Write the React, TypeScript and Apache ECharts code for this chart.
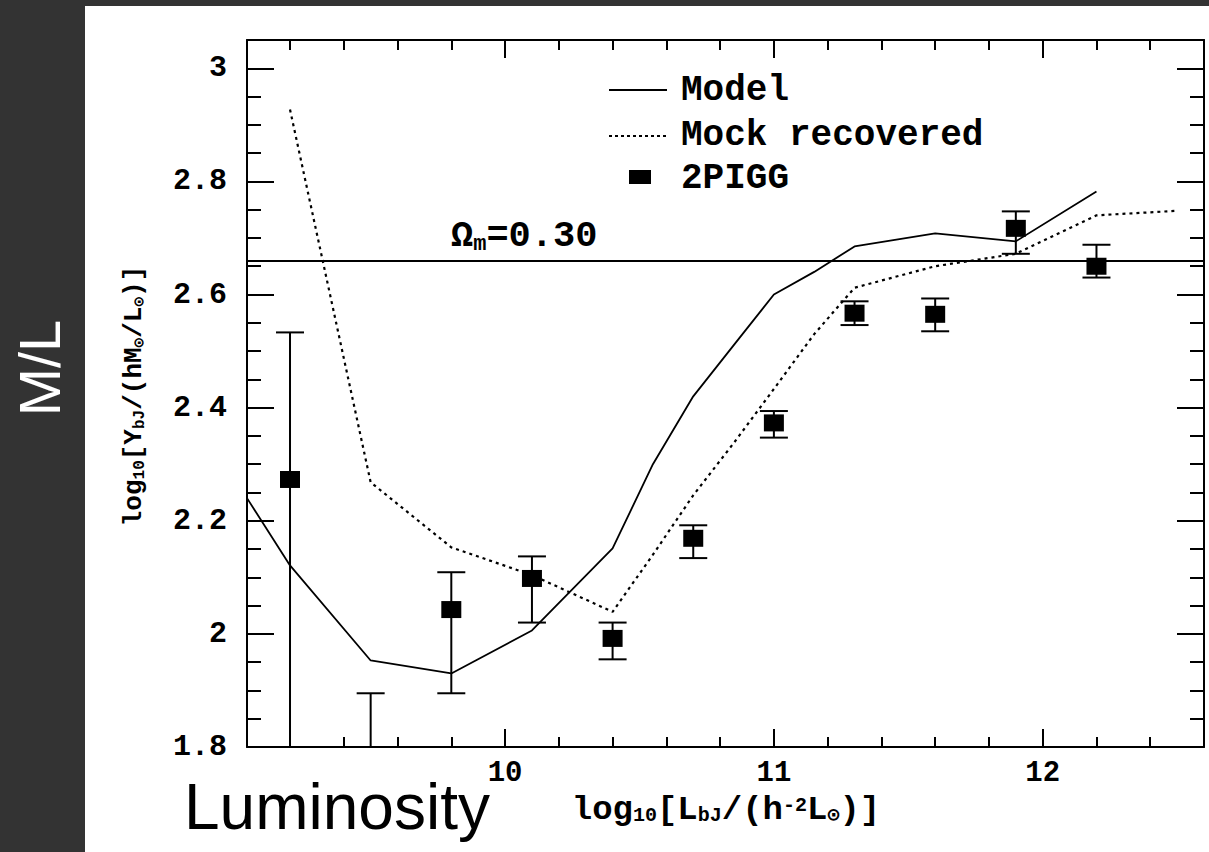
import React, { useEffect, useRef } from "react";
import * as echarts from "echarts";

// ---- data ----
const groupLum = [9.2, 9.5, 9.8, 10.1, 10.4, 10.7, 11.0, 11.3, 11.6, 11.9, 12.2];
const groupML = [2.273, 1.7, 2.043, 2.098, 1.992, 2.169, 2.373, 2.567, 2.565, 2.717, 2.65];
const groupLow = [1.5, 1.5, 1.895, 2.02, 1.955, 2.134, 2.347, 2.546, 2.535, 2.672, 2.63];
const groupHigh = [2.533, 1.895, 2.109, 2.137, 2.02, 2.192, 2.394, 2.588, 2.593, 2.747, 2.688];

const modelLum = [9.04, 9.2, 9.5, 9.8, 10.1, 10.4, 10.55, 10.7, 10.85, 11.0, 11.15, 11.3, 11.6, 11.9, 12.2];
const modelML = [2.24, 2.121, 1.953, 1.93, 2.006, 2.151, 2.3, 2.42, 2.51, 2.6, 2.64, 2.685, 2.708, 2.694, 2.782];

const mockLum = [9.2, 9.5, 9.8, 10.1, 10.4, 10.55, 10.7, 10.85, 11.0, 11.15, 11.3, 11.6, 11.9, 12.2, 12.5];
const mockML = [2.927, 2.268, 2.153, 2.104, 2.039, 2.14, 2.245, 2.337, 2.433, 2.53, 2.612, 2.65, 2.672, 2.74, 2.748];

const omegaLevel = 2.66;
const omegaLabel = "0.30";
const legendNames = ["Model", "Mock recovered", "2PIGG"];

const X_MIN = 9.04;
const X_MAX = 12.6;
const Y_MIN = 1.8;
const Y_MAX = 3.05;

const MONO = "'Liberation Mono', 'DejaVu Sans Mono', monospace";
const SANS = "'Liberation Sans', Arial, sans-serif";

export default function App() {
  const ref = useRef<HTMLDivElement | null>(null);

  useEffect(() => {
    if (!ref.current) return;
    const chart = echarts.init(ref.current, undefined, { renderer: "svg" });

    const black = "#000";
    const tickStyle = { color: black, width: 2 };

    const xBase: any = {
      type: "value",
      min: X_MIN,
      max: X_MAX,
      splitLine: { show: false },
      axisLine: { show: true, onZero: false, lineStyle: { color: black, width: 2 } },
    };
    const yBase: any = {
      type: "value",
      min: Y_MIN,
      max: Y_MAX,
      splitLine: { show: false },
      axisLine: { show: true, onZero: false, lineStyle: { color: black, width: 2 } },
    };

    const xAxis = [
      {
        ...xBase,
        position: "bottom",
        minInterval: 1,
        maxInterval: 1,
        axisTick: { show: true, inside: true, length: 18, lineStyle: tickStyle },
        axisLabel: {
          show: true,
          showMinLabel: false,
          showMaxLabel: false,
          color: black,
          fontFamily: MONO,
          fontWeight: "bold",
          fontSize: 29,
          lineHeight: 24,
          margin: 14,
        },
      },
      {
        ...xBase,
        position: "bottom",
        minInterval: 0.2,
        maxInterval: 0.2,
        axisLine: { show: false },
        axisTick: { show: true, inside: true, length: 10, lineStyle: tickStyle },
        axisLabel: { show: false },
      },
      {
        ...xBase,
        position: "top",
        minInterval: 1,
        maxInterval: 1,
        axisTick: { show: true, inside: true, length: 18, lineStyle: tickStyle },
        axisLabel: { show: false },
      },
      {
        ...xBase,
        position: "top",
        minInterval: 0.2,
        maxInterval: 0.2,
        axisLine: { show: false },
        axisTick: { show: true, inside: true, length: 10, lineStyle: tickStyle },
        axisLabel: { show: false },
      },
    ];

    const yAxis = [
      {
        ...yBase,
        position: "left",
        minInterval: 0.2,
        maxInterval: 0.2,
        axisTick: { show: true, inside: true, length: 27, lineStyle: tickStyle },
        axisLabel: {
          show: true,
          showMinLabel: true,
          showMaxLabel: false,
          color: black,
          fontFamily: MONO,
          fontWeight: "bold",
          fontSize: 30,
          margin: 20,
        },
      },
      {
        ...yBase,
        position: "left",
        minInterval: 0.05,
        maxInterval: 0.05,
        axisLine: { show: false },
        axisTick: { show: true, inside: true, length: 14, lineStyle: tickStyle },
        axisLabel: { show: false },
      },
      {
        ...yBase,
        position: "right",
        minInterval: 0.2,
        maxInterval: 0.2,
        axisTick: { show: true, inside: true, length: 27, lineStyle: tickStyle },
        axisLabel: { show: false },
      },
      {
        ...yBase,
        position: "right",
        minInterval: 0.05,
        maxInterval: 0.05,
        axisLine: { show: false },
        axisTick: { show: true, inside: true, length: 14, lineStyle: tickStyle },
        axisLabel: { show: false },
      },
    ];

    const modelData = modelLum.map((x, i) => [x, modelML[i]]);
    const mockData = mockLum.map((x, i) => [x, mockML[i]]);
    const pointData = groupLum.map((x, i) => [x, groupML[i]]);
    const errData = groupLum.map((x, i) => [x, groupLow[i], groupHigh[i]]);

    const option: any = {
      animation: false,
      backgroundColor: "transparent",
      grid: { left: 247, top: 40, width: 957, height: 707, containLabel: false },
      xAxis,
      yAxis,
      series: [
        {
          name: legendNames[0],
          type: "line",
          xAxisIndex: 0,
          yAxisIndex: 0,
          data: modelData,
          symbol: "none",
          lineStyle: { color: black, width: 1.8, type: "solid" },
          z: 3,
          markLine: {
            silent: true,
            symbol: ["none", "none"],
            label: { show: false },
            lineStyle: { color: black, width: 2, type: "solid" },
            data: [{ yAxis: omegaLevel }],
          },
        },
        {
          name: legendNames[1],
          type: "line",
          xAxisIndex: 0,
          yAxisIndex: 0,
          data: mockData,
          symbol: "none",
          lineStyle: { color: black, width: 2.2, type: [3, 4] },
          z: 3,
        },
        {
          name: "errors",
          type: "custom",
          xAxisIndex: 0,
          yAxisIndex: 0,
          data: errData,
          encode: { x: 0, y: [1, 2] },
          z: 4,
          renderItem: (params: any, api: any) => {
            const x = api.value(0);
            const lo = api.value(1);
            const hi = api.value(2);
            const top = api.coord([x, Math.min(hi, Y_MAX)]);
            const bot = api.coord([x, Math.max(lo, Y_MIN)]);
            const cap = 14;
            const style = { stroke: black, lineWidth: 2 };
            const children: any[] = [
              { type: "line", shape: { x1: top[0], y1: top[1], x2: bot[0], y2: bot[1] }, style },
            ];
            if (hi <= Y_MAX) {
              children.push({ type: "line", shape: { x1: top[0] - cap, y1: top[1], x2: top[0] + cap, y2: top[1] }, style });
            }
            if (lo >= Y_MIN) {
              children.push({ type: "line", shape: { x1: bot[0] - cap, y1: bot[1], x2: bot[0] + cap, y2: bot[1] }, style });
            }
            return { type: "group", children };
          },
        },
        {
          name: legendNames[2],
          type: "scatter",
          xAxisIndex: 0,
          yAxisIndex: 0,
          data: pointData,
          symbol: "rect",
          symbolSize: [20, 17],
          itemStyle: { color: black, opacity: 1 },
          clip: true,
          z: 5,
        },
      ],
      graphic: [
        // legend
        { type: "line", shape: { x1: 609, y1: 90, x2: 667, y2: 90 }, style: { stroke: black, lineWidth: 2 } },
        { type: "line", shape: { x1: 609, y1: 136, x2: 667, y2: 136 }, style: { stroke: black, lineWidth: 2, lineDash: [3, 3] } },
        { type: "rect", shape: { x: 629, y: 170, width: 22, height: 14 }, style: { fill: black } },
        {
          type: "text",
          x: 681,
          y: 90,
          style: { text: legendNames[0], fill: black, font: `bold 36px ${MONO}`, verticalAlign: "middle" },
        },
        {
          type: "text",
          x: 681,
          y: 135,
          style: { text: legendNames[1], fill: black, font: `bold 36px ${MONO}`, verticalAlign: "middle" },
        },
        {
          type: "text",
          x: 681,
          y: 178,
          style: { text: legendNames[2], fill: black, font: `bold 36px ${MONO}`, verticalAlign: "middle" },
        },
        // omega label
        {
          type: "text",
          x: 451,
          y: 236,
          style: {
            text: "{a|Ω}{s|m}{a|=" + omegaLabel + "}",
            verticalAlign: "middle",
            rich: {
              a: { fontFamily: MONO, fontWeight: "bold", fontSize: 37, fill: black, color: black, verticalAlign: "middle", lineHeight: 38 },
              s: { fontFamily: MONO, fontWeight: "bold", fontSize: 22, fill: black, color: black, verticalAlign: "bottom", lineHeight: 20 },
            },
          },
        },
        // x axis name
        {
          type: "text",
          x: 726,
          y: 810,
          style: {
            text: "{a|log}{s|10}{a|[L}{s|bJ}{a|/(h}{p|-2}{a|L}{s|⊙}{a|)]}",
            align: "center",
            verticalAlign: "middle",
            rich: {
              a: { fontFamily: MONO, fontWeight: "bold", fontSize: 34, color: black, fill: black, verticalAlign: "middle", lineHeight: 30 },
              s: { fontFamily: MONO, fontWeight: "bold", fontSize: 20, color: black, fill: black, verticalAlign: "bottom", lineHeight: 18 },
              p: { fontFamily: MONO, fontWeight: "bold", fontSize: 20, color: black, fill: black, verticalAlign: "top", lineHeight: 18 },
            },
          },
        },
        // y axis name
        {
          type: "text",
          x: 134,
          y: 396,
          rotation: Math.PI / 2,
          style: {
            text: "{a|log}{s|10}{a|[Υ}{s|bJ}{a|/(hM}{s|⊙}{a|/L}{s|⊙}{a|)]}",
            align: "center",
            verticalAlign: "middle",
            rich: {
              a: { fontFamily: MONO, fontWeight: "bold", fontSize: 26, color: black, fill: black, verticalAlign: "middle", lineHeight: 28 },
              s: { fontFamily: MONO, fontWeight: "bold", fontSize: 16, color: black, fill: black, verticalAlign: "bottom", lineHeight: 16 },
            },
          },
        },
        // slide annotations
        {
          type: "text",
          x: 39,
          y: 368,
          rotation: Math.PI / 2,
          style: { text: "M/L", fill: "#ffffff", font: `58px ${SANS}`, align: "center", verticalAlign: "middle" },
        },
        {
          type: "text",
          x: 184,
          y: 807,
          style: { text: "Luminosity", fill: black, font: `64px ${SANS}`, verticalAlign: "middle" },
        },
      ],
    };

    chart.setOption(option);
    return () => chart.dispose();
  }, []);

  return (
    <div style={{ position: "fixed", left: 0, top: 0, width: 1209, height: 852, background: "#333333", overflow: "hidden" }}>
      <div style={{ position: "absolute", left: 85, top: 6, width: 1124, height: 846, background: "#ffffff" }} />
      <div ref={ref} style={{ position: "absolute", left: 0, top: 0, width: 1209, height: 852 }} />
    </div>
  );
}
